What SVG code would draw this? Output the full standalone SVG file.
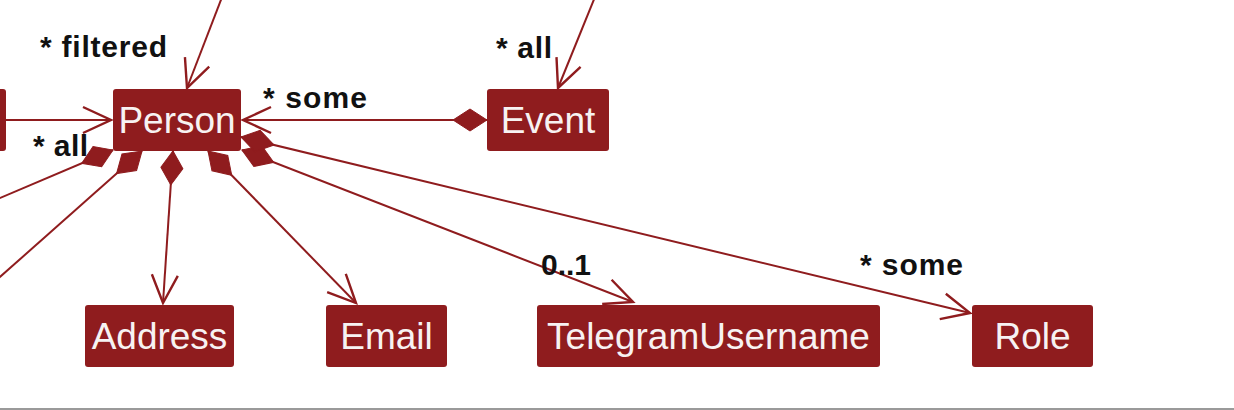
<svg xmlns="http://www.w3.org/2000/svg" width="1234" height="410" viewBox="0 0 1234 410">
  <style>
    .box { fill: #8F1C1E; }
    .name { fill: #F7F2F2; font-family: "Liberation Sans", Arial, sans-serif; font-size: 37px; text-anchor: middle; }
    .lbl { fill: #111111; font-family: "Liberation Sans", Arial, sans-serif; font-size: 30px; font-weight: bold; }
    .edge { fill: none; stroke: #8F1C1E; stroke-width: 2; }
  </style>
  <defs>
    <marker id="arrow" markerUnits="userSpaceOnUse" orient="auto" refX="0" refY="0" markerWidth="60" markerHeight="60" viewBox="-40 -20 60 40" overflow="visible">
      <path d="M-28,-13 L0,0 L-28,13" fill="none" stroke="#8F1C1E" stroke-width="2.4"/>
    </marker>
    <marker id="diamond" markerUnits="userSpaceOnUse" orient="auto" refX="0" refY="0" markerWidth="60" markerHeight="60" viewBox="-10 -20 60 40" overflow="visible">
      <path d="M0,0 L17,-11 L34,0 L17,11 Z" fill="#8F1C1E" stroke="#8F1C1E" stroke-width="1"/>
    </marker>
  </defs>
  <rect x="0" y="0" width="1234" height="410" fill="#FFFFFF"/>

  <g id="connectors">
    <path class="edge" d="M224,-8 L187,88" marker-end="url(#arrow)"/>
    <path class="edge" d="M597,-8 L558,88" marker-end="url(#arrow)"/>
    <path class="edge" d="M6,120 L111,120" marker-end="url(#arrow)"/>
    <path class="edge" d="M487,120 L243,120" marker-start="url(#diamond)" marker-end="url(#arrow)"/>
    <path class="edge" d="M173,151 L163,303" marker-start="url(#diamond)" marker-end="url(#arrow)"/>
    <path class="edge" d="M208,151 L356,303" marker-start="url(#diamond)" marker-end="url(#arrow)"/>
    <path class="edge" d="M242,150 L633,302" marker-start="url(#diamond)" marker-end="url(#arrow)"/>
    <path class="edge" d="M241,137 L970,313" marker-start="url(#diamond)" marker-end="url(#arrow)"/>
    <path class="edge" d="M113,150 L-20,206.5" marker-start="url(#diamond)"/>
    <path class="edge" d="M142,151 L-20,294.7" marker-start="url(#diamond)"/>
  </g>

  <g id="labels">
    <text class="lbl" x="40" y="57" textLength="127" lengthAdjust="spacing">* filtered</text>
    <text class="lbl" x="496" y="58" textLength="56" lengthAdjust="spacing">* all</text>
    <text class="lbl" x="263" y="108" textLength="104" lengthAdjust="spacing">* some</text>
    <text class="lbl" x="33" y="156" textLength="55" lengthAdjust="spacing">* all</text>
    <text class="lbl" x="541" y="275">0..1</text>
    <text class="lbl" x="860" y="275" textLength="103" lengthAdjust="spacing">* some</text>
  </g>

  <g id="node-left">
    <rect class="box" x="-60" y="89" width="66" height="62" rx="3"/>
  </g>
  <g id="node-person">
    <rect class="box" x="113" y="89" width="128" height="62" rx="3"/>
    <text class="name" x="177" y="133">Person</text>
  </g>
  <g id="node-event">
    <rect class="box" x="487" y="89" width="122" height="62" rx="3"/>
    <text class="name" x="548" y="133">Event</text>
  </g>
  <g id="node-address">
    <rect class="box" x="85" y="305" width="149" height="62" rx="3"/>
    <text class="name" x="159.5" y="349">Address</text>
  </g>
  <g id="node-email">
    <rect class="box" x="326" y="305" width="121" height="62" rx="3"/>
    <text class="name" x="386.5" y="349">Email</text>
  </g>
  <g id="node-telegram">
    <rect class="box" x="537" y="305" width="343" height="62" rx="3"/>
    <text class="name" x="708.5" y="349">TelegramUsername</text>
  </g>
  <g id="node-role">
    <rect class="box" x="972" y="305" width="121" height="62" rx="3"/>
    <text class="name" x="1032.5" y="349">Role</text>
  </g>

  <rect x="0" y="408" width="1234" height="2" fill="#9A9A9A"/>
</svg>
